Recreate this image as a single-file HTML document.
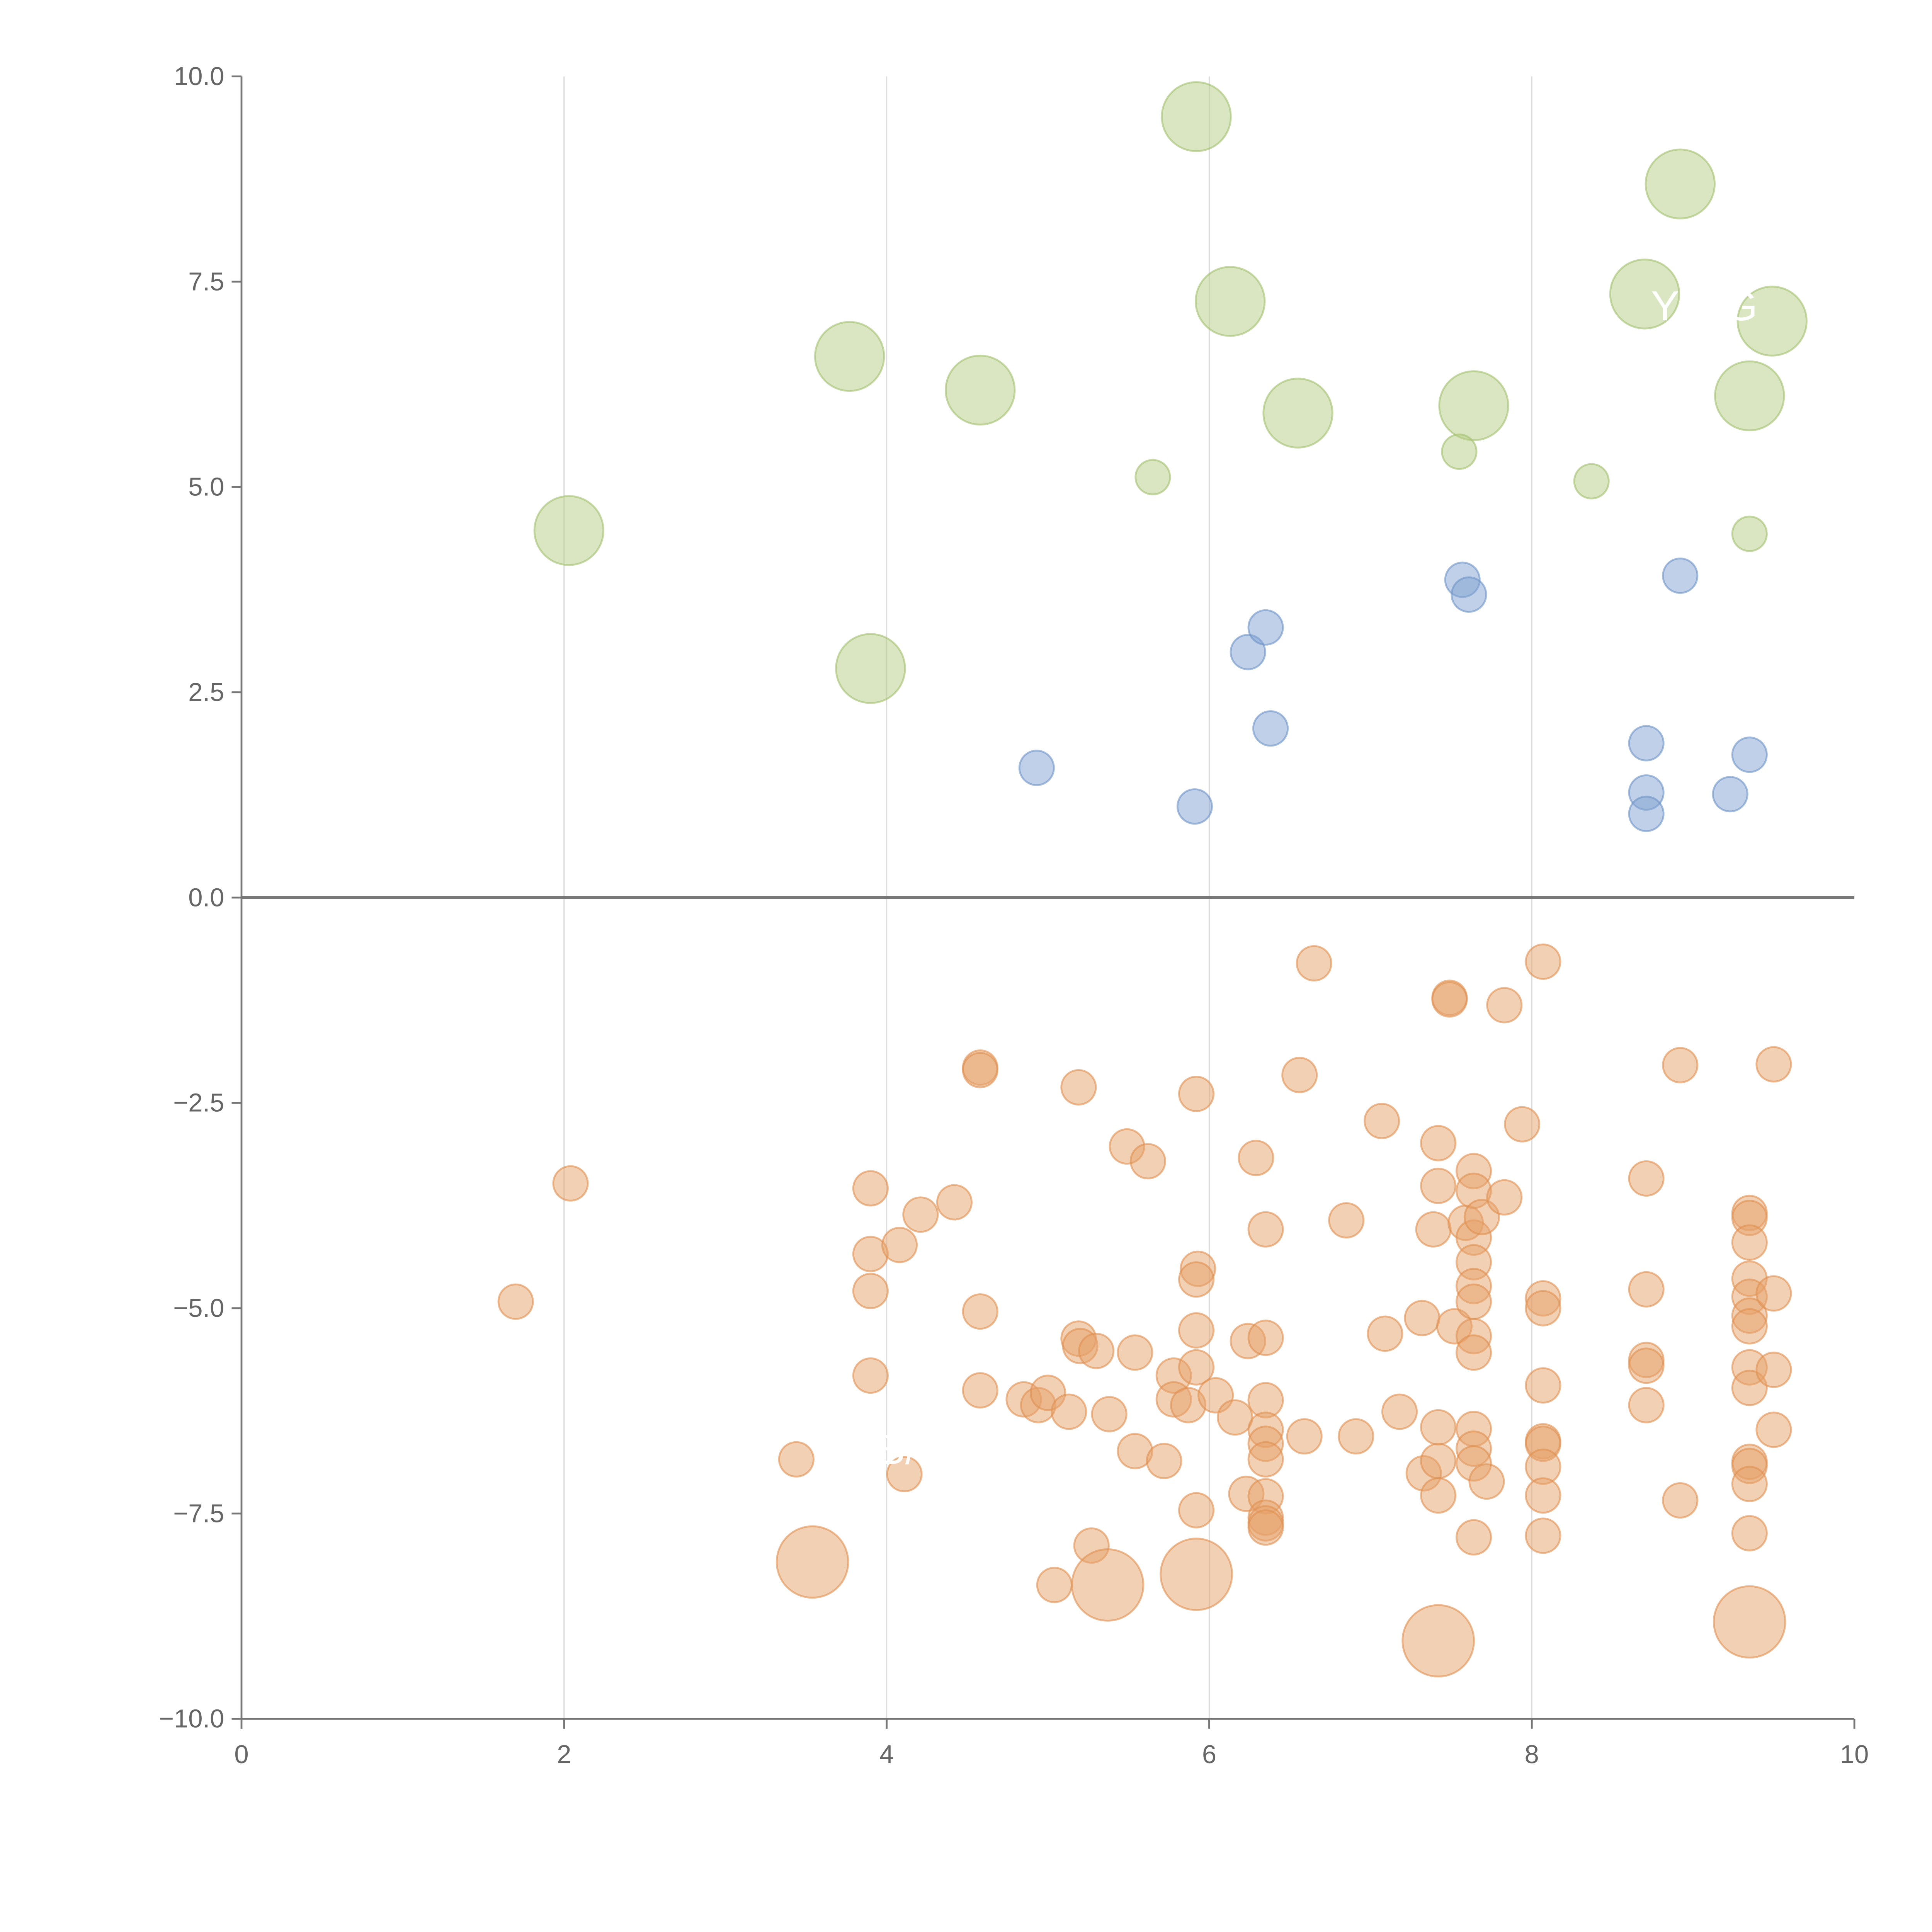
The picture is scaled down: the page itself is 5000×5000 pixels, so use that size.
<!DOCTYPE html>
<html><head><meta charset="utf-8"><style>
html,body{margin:0;padding:0;background:#fff}
svg{display:block}
text{font-family:"Liberation Sans",sans-serif}
</style></head><body>
<svg id="chart" width="5000" height="5000" viewBox="0 0 1568 1568" xmlns="http://www.w3.org/2000/svg">
<g id="grid"></g>
<g id="points"></g>
<g id="axes"></g>
<g id="labels">
<text x="1340" y="260" font-size="34" fill="#fff">Y</text>
<text x="1400" y="260" font-size="34" fill="#fff">G</text>
<text x="712" y="1188" font-size="34" fill="#fff">B/</text>
</g>
</svg>
<script>
const xTicks=[0,2,4,6,8,10];
const yTicks=[10,7.5,5,2.5,0,-2.5,-5,-7.5,-10];
const yTickLabels=["10.0","7.5","5.0","2.5","0.0","\u22122.5","\u22125.0","\u22127.5","\u221210.0"];
const greenX=[2.03,3.77,3.9,4.58,5.92,6.13,6.55,7.64,8.7,8.92,9.35,9.49,5.65,7.55,8.37,9.35];
const greenY=[4.47,6.59,2.79,6.18,9.51,7.26,5.9,5.99,7.35,8.69,6.11,7.02,5.12,5.43,5.07,4.43];
const greenSize=[2,2,2,2,2,2,2,2,2,2,2,2,1,1,1,1];
const blueX=[4.93,5.91,6.24,6.35,6.38,7.57,7.61,8.71,8.71,8.71,8.92,9.23,9.35];
const blueY=[1.58,1.11,2.99,3.29,2.06,3.87,3.69,1.88,1.28,1.02,3.92,1.26,1.74];
const orangeX=[1.70,2.04,3.44,3.54,3.90,3.90,3.90,3.90,4.08,4.21,4.11,4.42,4.58,4.58,4.58,4.58,4.85,4.94,5.00,5.04,5.13,5.19,5.19,5.20,5.27,5.30,5.38,5.37,5.49,5.54,5.54,5.62,5.72,5.78,5.78,5.87,5.92,5.93,5.92,5.92,5.92,5.92,5.92,6.04,6.16,6.24,6.23,6.29,6.35,6.35,6.35,6.35,6.35,6.35,6.35,6.35,6.35,6.35,6.56,6.59,6.65,6.85,6.91,7.07,7.09,7.18,7.32,7.33,7.39,7.42,7.42,7.42,7.42,7.42,7.42,7.49,7.49,7.52,7.59,7.64,7.64,7.64,7.64,7.64,7.64,7.64,7.64,7.64,7.64,7.64,7.64,7.69,7.72,7.83,7.83,7.94,8.07,8.07,8.07,8.07,8.07,8.07,8.07,8.07,8.07,8.71,8.71,8.71,8.71,8.71,8.92,8.92,9.35,9.35,9.35,9.35,9.35,9.35,9.35,9.35,9.35,9.35,9.35,9.35,9.35,9.35,9.50,9.50,9.50,9.50];
const orangeY=[-4.92,-3.48,-6.84,-8.09,-3.54,-4.34,-4.79,-5.82,-4.23,-3.86,-7.02,-3.71,-2.07,-2.10,-5.04,-6.00,-6.11,-6.18,-6.03,-8.37,-6.26,-2.31,-5.37,-5.46,-7.89,-5.52,-6.29,-8.37,-3.03,-5.54,-6.74,-3.21,-6.86,-5.82,-6.11,-6.18,-2.39,-4.52,-4.65,-5.27,-5.72,-7.46,-8.24,-6.06,-6.33,-5.40,-7.26,-3.17,-4.04,-5.36,-6.12,-6.48,-6.65,-6.84,-7.29,-7.55,-7.62,-7.67,-2.16,-6.56,-0.80,-3.93,-6.56,-2.72,-5.31,-6.26,-5.12,-7.01,-4.04,-2.99,-3.51,-6.45,-6.86,-7.28,-9.05,-1.22,-1.24,-5.22,-3.96,-3.33,-3.57,-4.14,-4.44,-4.73,-4.92,-5.34,-5.54,-6.47,-6.71,-6.89,-7.79,-3.89,-7.11,-1.31,-3.65,-2.76,-0.78,-4.88,-5.00,-5.94,-6.62,-6.65,-6.93,-7.28,-7.77,-3.42,-4.77,-5.63,-5.70,-6.18,-2.04,-7.34,-3.84,-3.90,-4.20,-4.64,-4.86,-5.09,-5.22,-5.72,-5.97,-6.87,-6.92,-7.14,-7.74,-8.82,-2.03,-4.82,-5.75,-6.48];
const orangeBigIdx=[3,27,42,74,125];
const NS="http://www.w3.org/2000/svg";
const X0=196,X1=1505,Y0=62,Y1=1395;
function sx(v){return X0+(v-0)/(10-0)*(X1-X0);}
function sy(v){return Y0+(10-v)/(20)*(Y1-Y0);}
function mk(tag,attrs,parent){const e=document.createElementNS(NS,tag);for(const k in attrs)e.setAttribute(k,attrs[k]);parent.appendChild(e);return e;}
const grid=document.getElementById('grid'),pts=document.getElementById('points'),axes=document.getElementById('axes');
xTicks.forEach(t=>{if(t>0&&t<10){const l=mk('line',{x1:sx(t),x2:sx(t),y1:Y0,y2:Y1,stroke:'#ddd','stroke-width':1},grid);

}});
function dot(x,y,r,fill,stroke,name){const c=mk('circle',{cx:sx(x),cy:sy(y),r:r,fill:fill,'fill-opacity':0.5,stroke:stroke,'stroke-opacity':0.6,'stroke-width':1.5},pts);

}
greenX.forEach((x,i)=>dot(x,greenY[i],greenSize[i]==2?28:14,'#b3cd83','#a3c070','green-point'));
blueX.forEach((x,i)=>dot(x,blueY[i],14,'#7fa2d2','#6e92c6','blue-point'));
orangeX.forEach((x,i)=>dot(x,orangeY[i],orangeBigIdx.includes(i)?29:14,'#e6a16a','#df8f50','orange-point'));
const zl=mk('line',{x1:X0,x2:X1,y1:sy(0),y2:sy(0),stroke:'#777','stroke-width':2.5},axes);


const ya=mk('line',{x1:X0,x2:X0,y1:Y0,y2:Y1,stroke:'#777','stroke-width':1.5},axes);


const xa=mk('line',{x1:X0,x2:X1,y1:Y1,y2:Y1,stroke:'#777','stroke-width':1.5},axes);


xTicks.forEach(t=>{mk('line',{x1:sx(t),x2:sx(t),y1:Y1,y2:Y1+8,stroke:'#777','stroke-width':1.5},axes);
const tx=mk('text',{x:sx(t),y:Y1+36,'font-size':21,fill:'#666','text-anchor':'middle'},axes);tx.textContent=t;

});
yTicks.forEach((t,i)=>{mk('line',{x1:X0-8,x2:X0,y1:sy(t),y2:sy(t),stroke:'#777','stroke-width':1.5},axes);
const tx=mk('text',{x:X0-14,y:sy(t)+7,'font-size':21,fill:'#666','text-anchor':'end'},axes);tx.textContent=yTickLabels[i];

});
</script>
</body></html>
